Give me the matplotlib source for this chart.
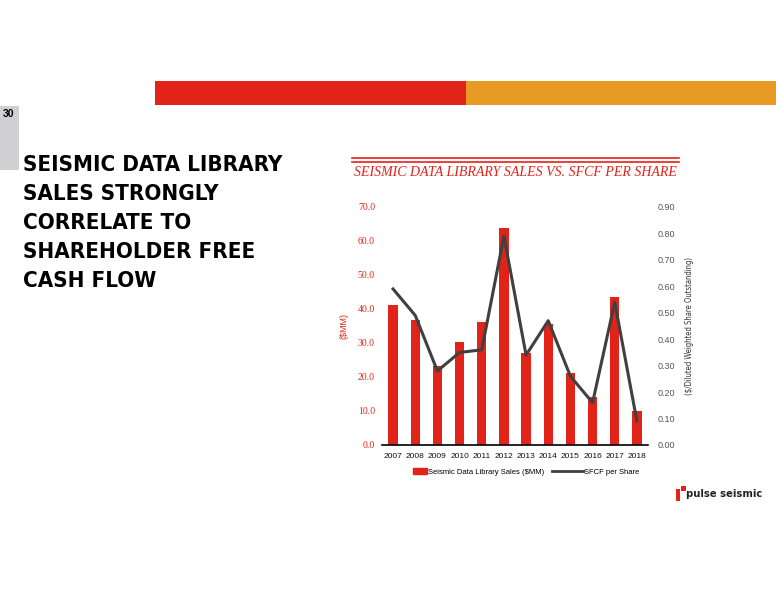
import matplotlib
matplotlib.use("Agg")
import matplotlib.pyplot as plt
from matplotlib.patches import Rectangle
from matplotlib.lines import Line2D
from matplotlib.legend_handler import HandlerPatch
import numpy as np

years = ["2007", "2008", "2009", "2010", "2011", "2012",
         "2013", "2014", "2015", "2016", "2017", "2018"]
library_sales = [41.2, 36.8, 23.2, 30.3, 36.2, 63.8, 27.0, 35.6, 21.2, 14.1, 43.5, 10.0]
sfcf_per_share = [0.59, 0.49, 0.28, 0.35, 0.36, 0.79, 0.34, 0.47, 0.26, 0.16, 0.54, 0.09]
left_ticks = [0, 10, 20, 30, 40, 50, 60, 70]
right_ticks = [0.0, 0.1, 0.2, 0.3, 0.4, 0.5, 0.6, 0.7, 0.8, 0.9]

RED = "#e2231a"
ORANGE = "#e89b24"
DARK = "#404040"
NARROW = dict(family="DejaVu Sans", fontstretch="condensed")

fig = plt.figure(figsize=(7.76, 6), dpi=100)

# slide decoration, in pixel coords
bg = fig.add_axes([0, 0, 1, 1])
bg.set_xlim(0, 776)
bg.set_ylim(600, 0)
bg.axis("off")
bg.add_patch(Rectangle((155, 81), 311, 24, color=RED, lw=0))
bg.add_patch(Rectangle((466, 81), 310, 24, color=ORANGE, lw=0))
bg.add_patch(Rectangle((0, 106), 19, 64, color="#d0d0d2", lw=0))
bg.text(3, 114, "30", fontsize=7.5, fontweight="bold", va="center", family="Liberation Sans")

title_lines = ["SEISMIC DATA LIBRARY", "SALES STRONGLY", "CORRELATE TO",
               "SHAREHOLDER FREE", "CASH FLOW"]
for i, line in enumerate(title_lines):
    bg.text(23, 165 + i * 29, line, fontsize=16, fontweight="bold", va="center",
            color="black", **NARROW)

bg.plot([352, 679], [158, 158], color=RED, lw=1.2)
bg.plot([352, 679], [162, 162], color=RED, lw=1.2)
bg.text(515, 173, "SEISMIC DATA LIBRARY SALES VS. SFCF PER SHARE", color=RED,
        fontsize=10, style="italic", family="Liberation Serif", ha="center", va="center")

# logo
bg.add_patch(Rectangle((676, 489), 4, 12, color=RED, lw=0))
bg.add_patch(Rectangle((681, 486), 5, 5, color=RED, lw=0))
bg.text(686, 494, "pulse seismic", fontsize=8, fontweight="bold", va="center",
        color="#222222", **NARROW)

# chart
ax = fig.add_axes([382 / 776, 155 / 600, 266 / 776, 238 / 600])
x = np.arange(len(years))
ax.bar(x, library_sales, width=0.42, color=RED, label="Seismic Data Library Sales ($MM)")
ax.set_xlim(-0.5, len(years) - 0.5)
ax.set_ylim(0, 70)
ax.set_yticks(left_ticks)
ax.set_yticklabels([f"{v:.1f}" for v in left_ticks], color=RED, fontsize=7,
                   family="Liberation Serif")
ax.set_xticks(x)
ax.set_xticklabels(years, fontsize=6, color="#111111", family="Liberation Sans")
ax.tick_params(length=0)
ax.tick_params(axis="x", pad=6)
ax.tick_params(axis="y", pad=5)
for s in ["top", "right", "left"]:
    ax.spines[s].set_visible(False)
ax.spines["bottom"].set_color("black")
ax.spines["bottom"].set_linewidth(1.2)
ax.set_ylabel("($MM)", color=RED, fontsize=6.5, labelpad=7, family="Liberation Sans")

ax2 = ax.twinx()
ax2.plot(x, sfcf_per_share, color=DARK, lw=2.2, label="SFCF per Share")
ax2.set_ylim(0, 0.9)
ax2.set_yticks(right_ticks)
ax2.set_yticklabels([f"{v:.2f}" for v in right_ticks], color="#555555", fontsize=6.5,
                    family="Liberation Sans")
ax2.tick_params(length=0, pad=7)
for s in ["top", "right", "left", "bottom"]:
    ax2.spines[s].set_visible(False)
ax2.set_ylabel("($/Diluted Weighted Share Outstanding)", color="#333333", fontsize=5.5,
               labelpad=7, **NARROW)


def short_patch(legend, orig_handle, xdescent, ydescent, width, height, fontsize):
    w = width * 0.45
    return Rectangle((width - w - xdescent, -ydescent), w, height)


handles = [Rectangle((0, 0), 1, 1, color=RED), Line2D([0], [0], color=DARK, lw=2)]
labels = ["Seismic Data Library Sales ($MM)", "SFCF per Share"]
fig.legend(handles, labels, loc="center", bbox_to_anchor=(518 / 776, 1 - 472 / 600),
           ncol=2, frameon=False, prop=dict(size=5.5, family="Liberation Sans"),
           handlelength=4, handleheight=0.7, handletextpad=0.2, columnspacing=1.0,
           handler_map={Rectangle: HandlerPatch(patch_func=short_patch)})

fig.savefig("out.png", dpi=100)
